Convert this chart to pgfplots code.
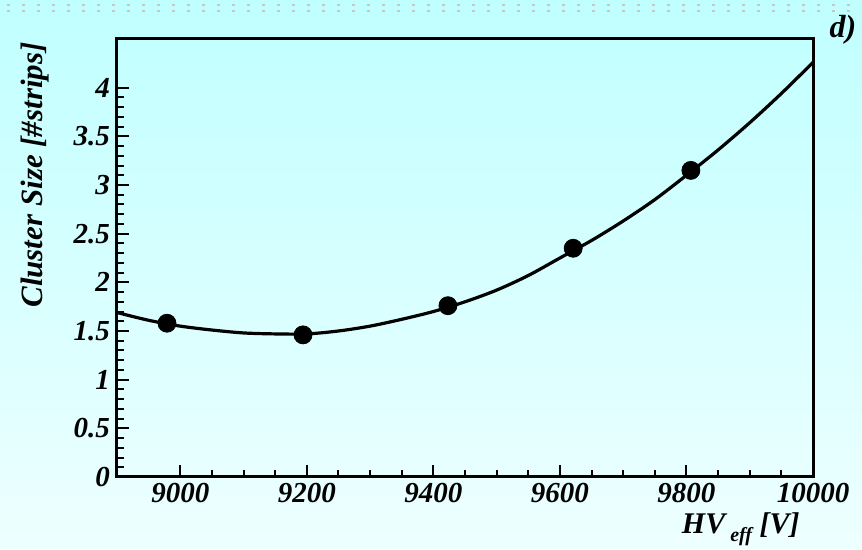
\documentclass[border=0pt]{standalone}
\usepackage{pgfplots}
\pgfplotsset{compat=1.18}
\usepackage{fontspec}
\setmainfont{Liberation Serif}
\definecolor{bgtop}{RGB}{192,255,255}
\definecolor{bgbot}{RGB}{238,255,255}
\begin{document}
\begin{tikzpicture}
\shade[top color=bgtop, bottom color=bgbot] (-58.5pt,-36.5pt) rectangle (372.5pt,238.5pt);
\useasboundingbox (-58.5pt,-36.5pt) rectangle (372.5pt,238.5pt);
\draw[gray!45, line width=0.8pt, dash pattern=on 1.5pt off 6pt] (-55pt,236pt) -- (372pt,236pt);
\draw[gray!45, line width=0.8pt, dash pattern=on 1.5pt off 6pt] (-55pt,233pt) -- (372pt,233pt);
\begin{axis}[
  at={(0pt,0pt)}, anchor=south west,
  scale only axis, width=348pt, height=219pt,
  xmin=8900, xmax=10000, ymin=0, ymax=4.5,
  xtick={9000,9200,...,10000},
  minor x tick num=3,
  ytick={0,0.5,...,4},
  minor y tick num=4,
  scaled x ticks=false,
  tick align=inside,
  xtick pos=bottom, ytick pos=left,
  major tick length=6pt, minor tick length=3.5pt,
  axis line style={line width=1.5pt},
  every tick/.style={line width=1pt, black},
  /pgf/number format/1000 sep={},
  /pgf/number format/assume math mode=true,
  tick label style={font=\fontsize{14.5}{16}\selectfont\bfseries\itshape},
  xticklabel style={yshift=-2pt, inner sep=1pt},
  axis background/.style={fill=none},
]
\addplot[black, line width=1.6pt, smooth] coordinates {
(8900,1.69) (8950,1.61) (9000,1.55) (9050,1.51) (9100,1.48) (9150,1.47)
(9200,1.47) (9250,1.50) (9300,1.55) (9350,1.62) (9400,1.70) (9450,1.80)
(9500,1.92) (9550,2.07) (9600,2.25) (9650,2.43) (9700,2.63) (9750,2.85)
(9800,3.10) (9850,3.36) (9900,3.64) (9950,3.94) (10000,4.26)
};
\addplot[only marks, mark=*, mark size=4.5pt, black] coordinates {
(8979,1.58) (9194,1.46) (9423,1.76) (9621,2.35) (9807,3.15)
};
\end{axis}
\node[font=\fontsize{15.5}{17}\selectfont\bfseries\itshape, rotate=90] at (-41pt,151pt) {Cluster Size [\#strips]};
\node[font=\fontsize{15}{17}\selectfont\bfseries\itshape, anchor=base east, inner sep=0pt] at (341.5pt,-28.5pt) {HV\,\raisebox{-4pt}{\fontsize{10}{12}\selectfont eff} [V]};
\node[font=\fontsize{16}{18}\selectfont\bfseries\itshape] at (363pt,223.5pt) {d)};
\end{tikzpicture}
\end{document}
